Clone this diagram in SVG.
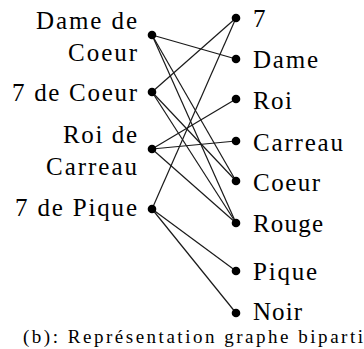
<svg xmlns="http://www.w3.org/2000/svg" width="364" height="349" viewBox="0 0 364 349">
<style>
text{font-family:'Liberation Serif','DejaVu Serif','Times New Roman',serif;fill:#000}
.lbl{font-size:25px}
.cap{font-size:19px}
.l{text-anchor:end}
.dot{fill:#000}
.edge{stroke:#1a1a1a;stroke-width:1.2;fill:none}
</style>
<rect width="364" height="349" fill="#fff"/>
<g id="connectors">
<line class="edge" x1="152" y1="35" x2="236" y2="59"/>
<line class="edge" x1="152" y1="35" x2="236" y2="181"/>
<line class="edge" x1="152" y1="35" x2="236" y2="223"/>
<line class="edge" x1="152" y1="92" x2="236" y2="18"/>
<line class="edge" x1="152" y1="92" x2="236" y2="181"/>
<line class="edge" x1="152" y1="92" x2="236" y2="223"/>
<line class="edge" x1="152" y1="149" x2="236" y2="99"/>
<line class="edge" x1="152" y1="149" x2="236" y2="141"/>
<line class="edge" x1="152" y1="149" x2="236" y2="223"/>
<line class="edge" x1="152" y1="209" x2="236" y2="18"/>
<line class="edge" x1="152" y1="209" x2="236" y2="271"/>
<line class="edge" x1="152" y1="209" x2="236" y2="313"/>
</g>
<g id="dame-de-coeur">
<circle class="dot" cx="152" cy="35" r="4.3"/>
<text class="lbl l" x="137" y="29" textLength="101">Dame de</text>
<text class="lbl l" x="137" y="61" textLength="69">Coeur</text>
</g>
<g id="sept-de-coeur">
<circle class="dot" cx="152" cy="92" r="4.3"/>
<text class="lbl l" x="137" y="101" textLength="125">7 de Coeur</text>
</g>
<g id="roi-de-carreau">
<circle class="dot" cx="152" cy="149" r="4.3"/>
<text class="lbl l" x="137" y="143" textLength="74">Roi de</text>
<text class="lbl l" x="137" y="175" textLength="91">Carreau</text>
</g>
<g id="sept-de-pique">
<circle class="dot" cx="152" cy="209" r="4.3"/>
<text class="lbl l" x="137" y="216" textLength="122">7 de Pique</text>
</g>
<g id="sept">
<circle class="dot" cx="236" cy="18" r="4.3"/>
<text class="lbl" x="253" y="27">7</text>
</g>
<g id="dame">
<circle class="dot" cx="236" cy="59" r="4.3"/>
<text class="lbl" x="253" y="68" textLength="65">Dame</text>
</g>
<g id="roi">
<circle class="dot" cx="236" cy="99" r="4.3"/>
<text class="lbl" x="253" y="109" textLength="39">Roi</text>
</g>
<g id="carreau">
<circle class="dot" cx="236" cy="141" r="4.3"/>
<text class="lbl" x="253" y="151" textLength="90">Carreau</text>
</g>
<g id="coeur">
<circle class="dot" cx="236" cy="181" r="4.3"/>
<text class="lbl" x="253" y="191" textLength="67">Coeur</text>
</g>
<g id="rouge">
<circle class="dot" cx="236" cy="223" r="4.3"/>
<text class="lbl" x="253" y="232" textLength="70">Rouge</text>
</g>
<g id="pique">
<circle class="dot" cx="236" cy="271" r="4.3"/>
<text class="lbl" x="253" y="280" textLength="64">Pique</text>
</g>
<g id="noir">
<circle class="dot" cx="236" cy="313" r="4.3"/>
<text class="lbl" x="253" y="320" textLength="49">Noir</text>
</g>
<text class="cap" x="23" y="343" textLength="340">(b): Représentation graphe biparti</text>
</svg>
